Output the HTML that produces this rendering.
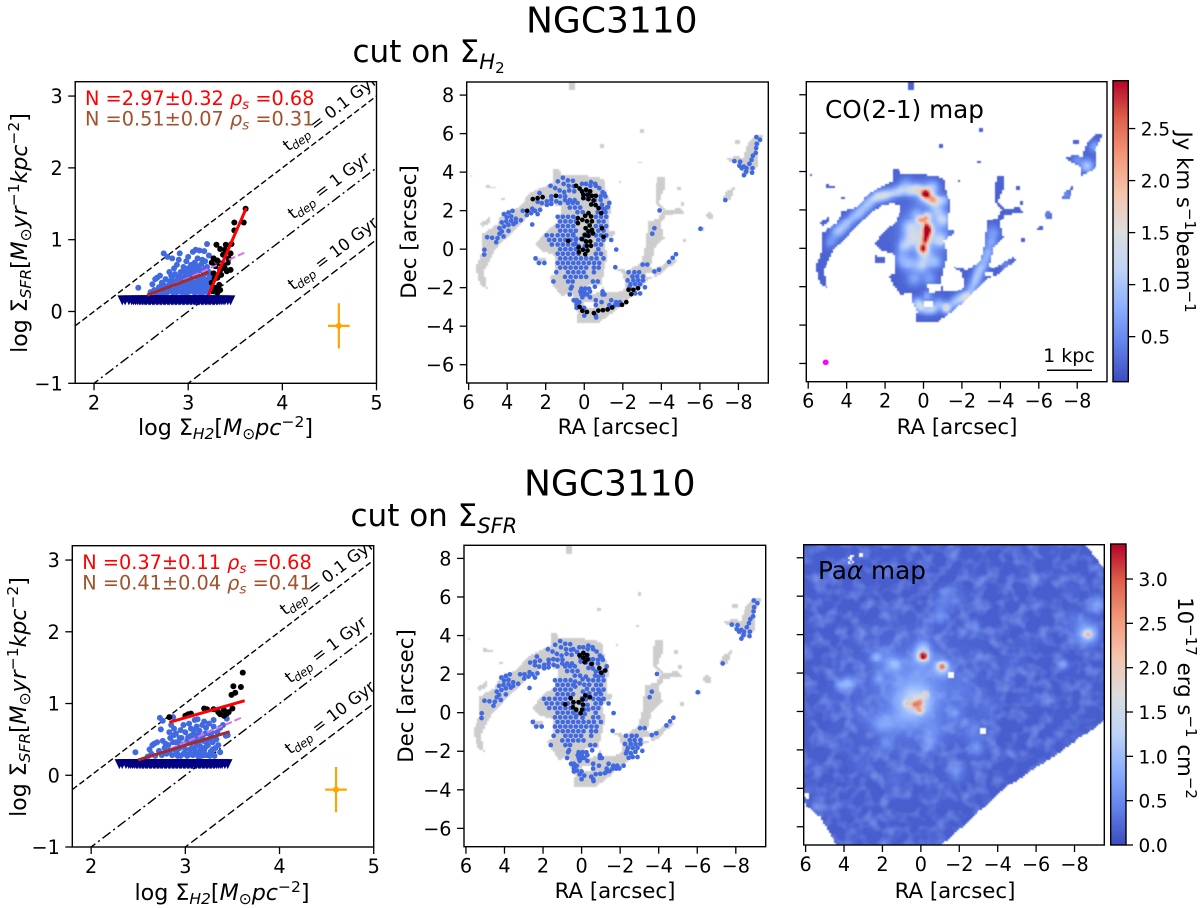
<!DOCTYPE html>
<html lang="en">
<head>
<meta charset="utf-8">
<title>NGC3110 resolved star formation law</title>
<style>
html,body{margin:0;padding:0;background:#fff;}
svg{display:block;}
text{font-family:"DejaVu Sans","Liberation Sans",sans-serif;fill:#000;}
</style>
</head>
<body>
<svg id="fig" xmlns="http://www.w3.org/2000/svg" width="1200" height="908" viewBox="0 0 1200 908">
  <defs>
    <filter id="soft" x="-5%" y="-5%" width="110%" height="110%"><feGaussianBlur stdDeviation="0.55"/></filter>
    <filter id="mottled" x="-2%" y="-2%" width="104%" height="104%" color-interpolation-filters="sRGB">
      <feGaussianBlur in="SourceGraphic" stdDeviation="0.55" result="img"/>
      <feTurbulence type="fractalNoise" baseFrequency="0.075" numOctaves="2" seed="7" result="n"/>
      <feColorMatrix in="n" type="matrix" values="0 0 0 0 0.6  0 0 0 0 0.72  0 0 0 0 1  1.2 0 0 0 -0.5" result="light"/>
      <feComposite in="light" in2="img" operator="in" result="lightIn"/>
      <feMerge><feMergeNode in="img"/><feMergeNode in="lightIn"/></feMerge>
    </filter>
  </defs>
  <rect width="1200" height="908" fill="#fff"/>

  <text x="526" y="32.5" font-size="36">NGC3110</text>
  <text x="352.5" y="62" font-size="31">cut on Σ<tspan font-size="21" dy="7" font-style="italic">H</tspan><tspan font-size="15" dy="4">2</tspan></text>
  <text x="524" y="495.5" font-size="36">NGC3110</text>
  <text x="350.5" y="526" font-size="31">cut on Σ<tspan font-size="21" dy="7" font-style="italic">SFR</tspan></text>

  <!-- static axis titles -->
  <text x="225.5" y="435" font-size="22.2" text-anchor="middle">log Σ<tspan font-size="15.5" dy="4" font-style="italic">H2</tspan><tspan dy="-4">[</tspan><tspan font-style="italic">M</tspan><tspan font-size="15.5" dy="4">⊙</tspan><tspan font-style="italic" dy="-4">pc</tspan><tspan font-size="15.5" dy="-8">−2</tspan><tspan dy="8">]</tspan></text>
  <text transform="translate(27 233) rotate(-90)" font-size="22" text-anchor="middle">log Σ<tspan font-size="15.5" dy="4" font-style="italic">SFR</tspan><tspan dy="-4">[</tspan><tspan font-style="italic">M</tspan><tspan font-size="15.5" dy="4">⊙</tspan><tspan font-style="italic" dy="-4">yr</tspan><tspan font-size="15.5" dy="-8">−1</tspan><tspan font-style="italic" dy="8">kpc</tspan><tspan font-size="15.5" dy="-8">−2</tspan><tspan dy="8">]</tspan></text>
  <text x="222" y="900" font-size="22.2" text-anchor="middle">log Σ<tspan font-size="15.5" dy="4" font-style="italic">H2</tspan><tspan dy="-4">[</tspan><tspan font-style="italic">M</tspan><tspan font-size="15.5" dy="4">⊙</tspan><tspan font-style="italic" dy="-4">pc</tspan><tspan font-size="15.5" dy="-8">−2</tspan><tspan dy="8">]</tspan></text>
  <text transform="translate(26 697) rotate(-90)" font-size="22" text-anchor="middle">log Σ<tspan font-size="15.5" dy="4" font-style="italic">SFR</tspan><tspan dy="-4">[</tspan><tspan font-style="italic">M</tspan><tspan font-size="15.5" dy="4">⊙</tspan><tspan font-style="italic" dy="-4">yr</tspan><tspan font-size="15.5" dy="-8">−1</tspan><tspan font-style="italic" dy="8">kpc</tspan><tspan font-size="15.5" dy="-8">−2</tspan><tspan dy="8">]</tspan></text>

  <text x="618" y="434" font-size="21.3" text-anchor="middle">RA [arcsec]</text>
  <text transform="translate(416 232) rotate(-90)" font-size="21.3" text-anchor="middle">Dec [arcsec]</text>
  <text x="957" y="434" font-size="21.3" text-anchor="middle">RA [arcsec]</text>
  <text x="615" y="898" font-size="21.3" text-anchor="middle">RA [arcsec]</text>
  <text transform="translate(413 696) rotate(-90)" font-size="21.3" text-anchor="middle">Dec [arcsec]</text>
  <text x="955" y="898" font-size="21.3" text-anchor="middle">RA [arcsec]</text>

  <text transform="translate(1177 222) rotate(90)" font-size="21.3" text-anchor="middle">Jy km s<tspan font-size="15" dy="-8">−1</tspan><tspan dy="8">beam</tspan><tspan font-size="15" dy="-8">−1</tspan></text>
  <text transform="translate(1178 698) rotate(90)" font-size="21.3" text-anchor="middle">10<tspan font-size="15" dy="-8">−17</tspan><tspan dy="8"> erg s</tspan><tspan font-size="15" dy="-8">−1</tspan><tspan dy="8"> cm</tspan><tspan font-size="15" dy="-8">−2</tspan></text>

  <g id="layer-panels"></g>

  <text x="85" y="105" font-size="19.3" style="fill:#ff0000">N =2.97±0.32 <tspan font-style="italic" style="fill:#ff0000">ρ</tspan><tspan font-size="13.6" dy="4" font-style="italic" style="fill:#ff0000">s</tspan><tspan dy="-4" style="fill:#ff0000"> =0.68</tspan></text>
  <text x="85" y="125.5" font-size="19.3" style="fill:#a0522d">N =0.51±0.07 <tspan font-style="italic" style="fill:#a0522d">ρ</tspan><tspan font-size="13.6" dy="4" font-style="italic" style="fill:#a0522d">s</tspan><tspan dy="-4" style="fill:#a0522d"> =0.31</tspan></text>
  <text x="82.3" y="569" font-size="19.3" style="fill:#ff0000">N =0.37±0.11 <tspan font-style="italic" style="fill:#ff0000">ρ</tspan><tspan font-size="13.6" dy="4" font-style="italic" style="fill:#ff0000">s</tspan><tspan dy="-4" style="fill:#ff0000"> =0.68</tspan></text>
  <text x="82.3" y="589.5" font-size="19.3" style="fill:#a0522d">N =0.41±0.04 <tspan font-style="italic" style="fill:#a0522d">ρ</tspan><tspan font-size="13.6" dy="4" font-style="italic" style="fill:#a0522d">s</tspan><tspan dy="-4" style="fill:#a0522d"> =0.41</tspan></text>

  <text x="825" y="118" font-size="24.7">CO(2-1) map</text>
  <text x="818" y="579" font-size="24.7">Pa<tspan font-style="italic">α</tspan> map</text>
  <text x="1069" y="362" font-size="19" text-anchor="middle">1 kpc</text>
  <line x1="1047" x2="1092" y1="370.3" y2="370.3" stroke="#000" stroke-width="1.5"/>
  <ellipse cx="825.7" cy="362.3" rx="3" ry="2.8" fill="#ff00ff"/>
</svg>

<script>
/* ---------- chart data ---------- */
const sfLawXTicks = [2, 3, 4, 5];
const sfLawYTicks = [-1, 0, 1, 2, 3];
const raTicks = [6, 4, 2, 0, -2, -4, -6, -8];
const decTicks = [8, 6, 4, 2, 0, -2, -4, -6];
const coCbarTicks = [0.5, 1.0, 1.5, 2.0, 2.5];
const paCbarTicks = [0.0, 0.5, 1.0, 1.5, 2.0, 2.5, 3.0];

/* depletion-time reference lines: log SFR = log H2 + offset */
const depletionOffsets = [-2, -3, -4];
const depletionLabels = ["0.1 Gyr", "1 Gyr", "10 Gyr"];

/* upper limits in the Sigma_H2 axis (same in both rows) */
const upperLimitY = 0.155;
const upperLimitX = [2.30,2.33,2.37,2.40,2.42,2.44,2.46,2.48,2.49,2.51,2.52,2.54,2.55,2.56,2.58,2.59,2.60,2.62,2.63,2.64,2.66,2.67,2.68,2.70,2.71,2.72,2.74,2.75,2.76,2.78,2.79,2.80,2.82,2.83,2.84,2.86,2.87,2.88,2.90,2.91,2.92,2.94,2.95,2.96,2.98,2.99,3.00,3.02,3.03,3.04,3.06,3.07,3.08,3.10,3.11,3.12,3.14,3.15,3.16,3.18,3.19,3.20,3.22,3.23,3.24,3.26,3.27,3.28,3.30,3.31,3.33,3.35,3.37,3.39,3.42,3.45];

const topBlueLaw = [[2.47,.33],[2.74,.81],[2.78,.76],[2.83,.74],[2.91,.81],[2.9,.72],[3.05,.83],[3.08,.86],[3.12,.85],[3.17,.84],[3.2,.94],[3.0,.76],[3.1,.74],[3.15,.72],[3.22,.78],[2.65,.45],[2.67,.47],[2.62,.38],[2.7,.5],[2.72,.4],[2.8,.55],[2.85,.6],[2.88,.65],[2.92,.55],[2.95,.62],[2.98,.7],[3.03,.65],[3.07,.68],[3.1,.63],[3.14,.66],[3.18,.7],[3.2,.62],[3.22,.55],[2.6,.27],[2.64,.3],[2.68,.28],[2.72,.32],[2.75,.26],[2.78,.35],[2.76,.45],[2.82,.3],[2.85,.38],[2.83,.48],[2.88,.27],[2.9,.35],[2.89,.45],[2.93,.42],[2.95,.3],[2.97,.5],[2.98,.38],[3.0,.27],[3.01,.45],[3.02,.55],[3.04,.33],[3.05,.48],[3.07,.26],[3.08,.4],[3.09,.54],[3.11,.31],[3.12,.47],[3.13,.58],[3.15,.26],[3.15,.38],[3.16,.5],[3.18,.32],[3.18,.6],[3.2,.44],[3.21,.26],[3.22,.36],[3.23,.5],[3.0,.6],[2.93,.27],[2.86,.52],[2.8,.42],[3.06,.6],[2.74,.37],[2.96,.45],[3.12,.38],[3.19,.53],[3.04,.41],[2.91,.49],[2.99,.33],[3.1,.28],[2.7,.25],[3.17,.42],[3.14,.32],[3.06,.35],[3.02,.3],[2.84,.26],[2.78,.27],[2.81,.36],[2.87,.32],[2.9,.28],[2.94,.35],[2.97,.26],[3.0,.32],[3.03,.38],[3.05,.28],[3.08,.33],[3.1,.44],[3.13,.26],[3.16,.29],[3.19,.38],[3.22,.3],[3.24,.42],[2.92,.38],[2.96,.56],[3.0,.52],[3.04,.58],[3.11,.57],[3.16,.56],[3.14,.44],[2.66,.26],[2.73,.27],[2.77,.31],[2.84,.42],[2.88,.4],[3.07,.52],[3.01,.38],[2.95,.42],[2.82,.5],[2.69,.34]];
const topBlackLaw = [[3.61,1.43],[3.49,1.24],[3.59,1.24],[3.49,1.13],[3.30,.93],[3.34,.87],[3.40,.93],[3.46,.94],[3.39,.86],[3.37,.79],[3.45,.81],[3.43,.74],[3.27,.74],[3.31,.71],[3.25,.68],[3.34,.67],[3.29,.63],[3.39,.60],[3.45,.58],[3.34,.58],[3.27,.53],[3.35,.51],[3.31,.47],[3.25,.40],[3.33,.37],[3.29,.33],[3.34,.30],[3.27,.28],[3.31,.26],[3.38,.66],[3.42,.68],[3.28,.46],[3.41,.56]];
const bottomBlueLaw = [[2.47,.32],[2.73,.8],[2.76,.76],[2.74,.64],[2.87,.81],[2.65,.42],[2.67,.44],[2.62,.36],[3.1,.77],[3.13,.78],[3.2,.75],[3.3,.77],[3.44,.79],[3.4,.7],[3.43,.55],[3.45,.56],[3.35,.42],[2.85,.7],[2.88,.65],[2.83,.6],[2.9,.58],[2.95,.63],[2.98,.7],[3.0,.6],[3.04,.72],[3.06,.65],[3.09,.58],[3.12,.68],[3.15,.62],[3.18,.7],[3.22,.66],[3.25,.72],[3.28,.6],[3.3,.68],[3.34,.6],[3.37,.66],[2.6,.26],[2.64,.3],[2.68,.27],[2.72,.34],[2.75,.28],[2.78,.38],[2.76,.48],[2.8,.3],[2.82,.42],[2.84,.52],[2.86,.28],[2.88,.36],[2.9,.46],[2.92,.27],[2.94,.38],[2.96,.52],[2.98,.3],[3.0,.44],[3.02,.27],[3.03,.53],[3.05,.36],[3.07,.46],[3.08,.28],[3.1,.38],[3.11,.5],[3.13,.3],[3.14,.56],[3.16,.4],[3.17,.27],[3.19,.48],[3.2,.35],[3.21,.58],[3.23,.28],[3.24,.42],[3.26,.5],[3.27,.33],[3.29,.46],[3.31,.27],[3.32,.38],[2.7,.46],[2.93,.45],[3.06,.55],[3.18,.54],[3.12,.44],[3.0,.36],[2.87,.46],[3.25,.58],[3.15,.33],[3.04,.29],[3.09,.63],[2.97,.43],[2.83,.34],[2.91,.32],[2.95,.27],[3.0,.3],[3.06,.3],[3.11,.33],[3.14,.26],[3.18,.36],[3.22,.47],[3.26,.27],[3.29,.36],[3.28,.54],[3.33,.5],[3.37,.32],[3.02,.48],[3.07,.38],[3.16,.48],[3.22,.4],[2.94,.52],[2.88,.56],[3.1,.56],[2.79,.44],[3.2,.28]];
const bottomBlackLaw = [[3.61,1.43],[3.51,1.24],[3.59,1.23],[3.53,1.15],[3.49,1.12],[2.83,.81],[3.03,.85],[3.06,.86],[3.0,.83],[3.2,.93],[3.23,.92],[3.3,.92],[3.41,.91],[3.37,.85],[3.41,.83],[3.44,.86],[3.5,.93],[3.46,.88],[3.35,.88]];

/* [x0, x1, y0, y1] in data units */
const topRedFit = [3.216, 3.617, 0.232, 1.44];
const topBrownFit = [2.564, 3.216, 0.227, 0.548];
const topVioletFit = [2.56, 3.61, 0.205, 0.826];
const bottomRedFit = [2.83, 3.63, 0.738, 1.04];
const bottomBrownFit = [2.5, 3.47, 0.214, 0.608];
const bottomVioletFit = [2.55, 3.62, 0.2, 0.817];

const errorBarCentre = [4.6, -0.2];
const errorBarHalf = [0.115, 0.315];

/* emission-region outlines, in [RA, Dec] arcsec */
const emissionOutlines = [
 [[5.03,-2.08],[5.42,-1.82],[5.61,-.95],[5.3,-.09],[5.3,.78],[4.51,1.3],[4.25,1.91],[3.39,2.17],[2.86,2.86],[1.65,3.47],[1.56,4.11],[1.3,4.11],[1.13,3.87],[.17,3.87],[-1.04,3.65],[-1.16,2.95],[-1.39,2.52],[-1.3,.95],[-1.74,.87],[-1.04,.43],[-1.22,-.43],[-1.04,-1.04],[-.9,-1.74],[-1.04,-2.26],[-1.74,-2.26],[-2.12,-2.0],[-2,-1.3],[-1.48,-.95],[-2.26,-1.13],[-2.95,-.69],[-3.21,.26],[-3.3,1.48],[-3.82,1.51],[-4.08,2.0],[-3.65,2.43],[-3.65,2.95],[-3.82,3.73],[-4.17,3.77],[-4.17,3.13],[-3.91,2.43],[-4.34,2.0],[-4.95,2.17],[-5.21,1.91],[-4.25,1.74],[-3.99,1.3],[-4.17,.61],[-3.65,.09],[-3.39,-.95],[-3.65,-1.04],[-4.69,-.43],[-4.77,-.61],[-3.99,-1.3],[-3.21,-1.65],[-2.78,-2.17],[-1.91,-2.95],[-.69,-3.9],[.43,-3.9],[.35,-3.3],[.61,-2.78],[.61,-2.34],[1.22,-2.43],[1.82,-1.48],[1.48,-1.3],[1.56,-.26],[2.08,-.17],[2.52,.26],[2.08,.87],[1.48,1.3],[1.13,2.17],[1.56,2.34],[2.08,2.26],[2.78,1.82],[3.3,1.3],[4.0,.61],[4.69,-.09],[5.21,-1.13]],
 [[-.17,-1.82],[-.87,-1.86],[-.87,-2.26],[-.35,-2.34]],
 [[0,-2.78],[-.52,-2.78],[-.52,-3.04],[0,-3.04]],
 [[-3.21,-1.22],[-3.56,-1.22],[-3.56,-1.48],[-3.21,-1.48]],
 [[2.55,-.35],[2.0,-.5],[2.0,-.78],[2.5,-.7]],
 [[5.4,1.3],[4.9,1.65],[4.85,1.45],[5.3,1.1]],
 [[5.1,3.35],[4.6,3.2],[4.6,3.1],[5.1,3.1]],
 [[4.3,2.65],[4.15,2.65],[4.15,2.5],[4.3,2.5]],
 [[.8,8.7],[.5,8.7],[.55,8.25],[.75,8.25]],
 [[-2.9,6.2],[-3.05,6.2],[-3.05,6.05],[-2.9,6.05]],
 [[-.8,5.45],[-.95,5.45],[-.95,5.2],[-.8,5.2]],
 [[-2.8,4.55],[-2.95,4.55],[-2.95,4.4],[-2.8,4.4]],
 [[-1.75,3.55],[-1.85,3.55],[-1.85,3.4],[-1.75,3.4]],
 [[5.9,3.8],[5.8,3.8],[5.8,3.7],[5.9,3.7]],
 [[-7.38,4.69],[-7.81,4.86],[-8.25,4.77],[-8.51,5.47],[-8.94,5.95],[-9.34,5.9],[-8.94,5.12],[-9.03,4.25],[-8.25,3.77],[-8.16,4.25],[-7.64,4.51]],
 [[-7.78,5.64],[-8.12,5.64],[-8.12,5.43],[-7.78,5.43]],
 [[-7.12,2.52],[-7.38,2.95],[-7.85,3.35],[-7.55,2.52]],
 [[-6.3,1.82],[-6.6,2.0],[-6.74,1.56],[-6.42,1.5]],
 [[-5.9,1.04],[-6.16,1.2],[-6.16,.95],[-5.9,.95]],
 [[-5.12,.52],[-5.33,.55],[-5.33,.3],[-5.12,.35]],
 [[-4.77,3.2],[-4.95,3.2],[-4.95,3.05],[-4.77,3.05]],
 [[-5,2.45],[-5.15,2.45],[-5.15,2.25],[-5,2.25]]
];

/* Pa-alpha field of view and blank pixels */
const paOutline = [[-8.47,8.8],[-9.6,7.38],[-9.6,-.45],[-6.88,-2.36],[-5.41,-3.31],[-4.45,-3.92],[-2.37,-5.82],[-.9,-7.1],[4.3,-7.1],[5.25,-5.48],[6.03,-4.87],[6.2,-4.09],[6.2,8.8]];
const paBlanks = [[-1.41,2.02],[-1.51,2.02],[-1.61,2.02],[-1.41,1.92],[-1.51,1.92],[-1.61,1.92],[-1.41,1.82],[-1.51,1.82],[-1.61,1.82],[-3.14,-.87],[-3.24,-.87],[-3.34,-.87],[-3.14,-.97],[-3.24,-.97],[-3.34,-.97],[-3.14,-1.07],[-3.24,-1.07],[-3.34,-1.07],[3.7,8.05],[3.6,8.05],[3.8,7.95],[3.7,7.95],[3.7,7.85],[3.8,7.75],[3.7,7.65],[3.6,7.75],[3.8,7.65],[3.2,8.15],[3.1,8.15],[3.2,8.05],[3.1,8.05],[6.0,-4.3],[5.9,-4.3],[6.0,-4.4],[5.9,-4.4],[5.9,-4.5]];

/* CO(2-1) intensity peaks: [RA, Dec, amplitude, sigma] */
const coBaseLevel = 0.22;
const coPeaks = [[-.09,2.86,2.4,.18],[-.05,2.85,.7,.36],[-.55,2.48,1.35,.18],[-.3,2.65,.8,.22],[.35,3.1,.9,.18],[.2,1.48,1.3,.14],[-.2,1.65,1.1,.15],[-.05,1.5,.9,.15],[-.2,.92,2.25,.17],[-.18,1.15,1.3,.16],[-.09,.43,1.65,.16],[-.15,.68,1.1,.16],[.03,-.02,2.4,.18],[-.05,.7,.55,.6],[0,1.0,.3,.8],[.6,.5,.65,.28],[1.0,.1,.65,.24],[.8,-.8,.6,.28],[.1,-.9,.8,.28],[-.6,-.7,.6,.25],[-.9,.4,.75,.25],[-1.0,1.5,.8,.25],[-.7,2.0,.6,.25],[.5,-1.6,.45,.25],[1.2,-.5,.35,.25],[-.3,-1.6,.4,.25],[-.1,-.4,.55,.25],[.7,1.1,.55,.25],[.4,1.8,.35,.2],[.9,3.3,.45,.25],[-.5,3.2,.55,.22],[-1,2.5,.7,.2],[4.5,.85,.6,.2],[4.75,.45,.3,.2],[4.9,.2,.2,.18],[4.25,1.05,.5,.2],[4.0,1.3,.6,.2],[3.7,1.55,.5,.2],[3.4,1.8,.6,.2],[3.15,2.05,.5,.2],[2.9,2.3,.6,.2],[2.65,2.55,.55,.2],[2.4,2.7,.75,.2],[2.15,2.72,.6,.2],[1.9,2.8,.8,.2],[1.55,2.9,.6,.2],[1.2,3.0,.75,.2],[.7,3.0,.75,.2],[.17,-3.04,1.0,.2],[.35,-2.8,.5,.18],[-.2,-3.2,.55,.18],[-.5,-3.15,.7,.18],[-1.2,-3.1,1.45,.17],[-.8,-2.9,.55,.2],[-1.6,-2.85,.6,.18],[-1.9,-2.65,.7,.2],[-2.26,-2.55,1.3,.19],[-2.5,-2.1,.6,.2],[-2.7,-1.7,.7,.2],[-2.85,-1.35,.6,.18],[-3.0,-1.0,.7,.2],[-3.2,-.6,.5,.2],[-3.35,-.2,.55,.2],[-3.5,.3,.45,.2],[-3.6,.8,.4,.25],[-.2,-2.5,.5,.18],[-4.3,-.85,.25,.18],[-8.5,4.3,.8,.22],[-8.9,5.3,.5,.2],[-8.0,4.6,.3,.18],[-7.4,2.8,.3,.18],[-6.45,1.8,.2,.18]];

/* Pa-alpha surface-brightness peaks: [RA, Dec, amplitude, sigma] */
const paBaseLevel = 0.13;
const paPeaks = [[-.12,2.91,2.9,.13],[-.1,2.9,1.2,.3],[-.1,3.4,.45,.25],[-1.11,2.32,1.7,.14],[-1.1,2.3,1.0,.28],[.75,.42,1.0,.12],[.35,.38,1.0,.12],[.05,.02,1.1,.12],[.05,.5,1.1,.14],[-.26,.85,1.0,.12],[.14,.24,.7,.16],[.3,.4,.95,.55],[.3,1.2,.35,1.0],[.3,.8,.22,2.2],[-8.7,4.02,1.25,.14],[-8.7,4.02,.85,.35],[-8.3,4.3,.18,.6],[3.78,1.46,.7,.24],[4.2,1.37,.5,.2],[2.34,2.84,.65,.2],[1.35,2.44,.6,.25],[1.75,2.7,.25,.3],[2.2,1.7,.4,.2],[-1,4.9,.4,.22],[-1,5.4,.2,.3],[-2.8,4.4,.4,.2],[-7.4,2.44,.55,.18],[-9.2,5.6,.55,.3],[-1.77,-.07,.45,.2],[-2.9,-1.9,.45,.25],[-2.7,-1.0,.25,.35],[-1.85,-3.2,.3,.3],[-.47,-1.66,.35,.25],[1.8,-1.66,.35,.25],[2.1,-.6,.4,.35],[-1.33,6,.2,.35],[-1.9,5.8,.15,.4],[1.2,-.5,.3,.4],[-.6,-1,.25,.4],[-2.2,1.1,.12,.4],[-3.5,.2,.12,.4],[-4.8,2.4,.1,.4],[-5.5,3.5,.08,.4],[-7.8,6.3,.08,.35],[-5.6,.6,.08,.35],[-.6,-4.6,.1,.3],[1.4,-3.5,.12,.35],[3.1,-2.8,.1,.35],[4.5,-1.6,.08,.35],[4.8,.4,.1,.3],[-2.8,2.8,.12,.25],[3,-.2,.12,.3],[-7.8,4.9,.1,.3]];

/* emission-line spots: [Dec, [RA, RA, ...]] rows shared by both spot maps */
const spotRows = [
 [5.82,[-8.93]],[5.68,[-9.12]],[5.47,[-8.95]],[5.25,[-8.92]],[5.0,[-8.9]],[4.85,[-8.75]],[4.64,[-8.68]],[4.57,[-7.79]],[4.54,[-8.09]],[4.43,[-8.57]],[4.33,[-8.05]],[4.29,[-8.28]],[4.2,[-8.17,-8.42,-8.73]],[4.03,[-8.4]],[3.97,[-8.71]],[3.84,[-8.29]],
 [2.55,[-7.32,1.0,.75,.5,-.55,-.85]],[1.06,[-6.03]],[2.01,[-3.91]],[1.09,[-3.64]],[.8,[-3.53]],[-.26,[-4.76]],[-.45,[-4.59]],[-.66,[-4.4]],[-1.07,[-3.88]],[-1.16,[-3.64]],[-.8,[-3.27,-3.03]],[-.02,[-1.66]],[-.94,[-1.61]],
 [-.03,[5.18]],[-.28,[5.19]],[.62,[5.04]],[.59,[4.78]],[.36,[4.57]],[.57,[4.5]],[.8,[4.4]],[.66,[4.19]],[.95,[3.93]],[.92,[4.28]],[1.09,[4.4]],[1.18,[4.16]],[1.26,[3.93]],[1.3,[3.67]],[1.39,[4.28,3.55]],[1.44,[4.05]],[1.47,[3.79]],[1.5,[3.29]],[1.66,[4.02]],[1.7,[3.79]],[1.58,[3.55]],[1.82,[4.16,2.42]],[1.9,[3.93]],[1.99,[3.72,3.19,2.55]],[1.28,[2.7]],
 [1.77,[2.98]],[1.87,[2.75]],[2.04,[2.29]],[2.1,[2.7]],[2.91,[2.32]],[2.46,[2.42]],[2.39,[2.2]],[2.48,[1.94,1.45]],[2.3,[1.94]],[2.56,[1.71]],[2.35,[1.71]],[2.74,[1.71,1.25,.99,-.85,-1.1]],[3.29,[1.75,.81,.43,-.32,-.6]],[3.17,[1.51]],[3.05,[1.28,.78]],[2.96,[1.04,-.95]],[3.52,[1.37]],[3.71,[1.11]],[3.39,[1.07,.12,-.09,-.57]],[3.57,[.85]],[3.55,[.59]],[3.26,[.55]],[3.0,[.52]],[3.48,[-.35]],[3.17,[-.78]],[2.87,[-1.04]],
 [2.4,[1.25,.85,.6,.35,-1.3]],[2.16,[.75,.48,.21,-.9,-1.17]],[1.92,[.35,.08,-.7,-1.1]],[1.68,[1.38,1.11,.84,.57,-.6,-.87,-1.14]],[1.44,[1.25,.98,.71,.44,-.75,-1.0]],[1.2,[1.38,1.11,.84,.57,-.6,-.87,-1.14]],[.96,[1.25,.98,.71,.44,-.73,-1.0]],[.72,[1.95,1.68,1.38,1.11,.84,.57,-.6,-.87,-1.14]],[.48,[1.82,1.55,1.25,.98,.71,.44,-.73,-1.0,-1.4]],[.24,[1.68,1.38,1.11,.84,.57,-.6,-.87]],[0,[1.25,.98,.71,.44,-.73]],[-.24,[1.38,1.11,.84,.57,.3,-.6,-.87]],[-.48,[2.53,1.25,.98,.71,.44,.17,-.1,-.37,-.64,-1.0]],[-.72,[2.35,2.07,1.38,1.11,.84,.57,.3,.03,-.24,-.51,-.78]],[-.96,[1.25,.98,.71,.44,.17,-.1,-.5,-.75]],[-1.2,[1.45,.84,.57,.3,.03,-.5]],[-1.44,[1.0,.71,.44,.17,-.1]],[-1.68,[1.6,.84,.6,-.45,-.7]],[-1.95,[.65,-.55]],[-2.05,[.7,.15,-.05,-.25]],[-2.2,[0,.2,-.3,-.95]],[-2.35,[.75,.15,-.05,-.15,-.95,-1.05]],[-2.5,[.1,-.3]],[-2.65,[.55,.4,-.6,-1.4]],[-2.75,[.4,.25,-.9,-1.65,-1.85]],[-2.9,[.4,-.6,-1.3,-1.6,-1.8]],[-3.05,[.4,0,-1.3]],[-3.45,[0,-.6]],[-3.55,[-.62]],
 [-1.2,[-2.3,-2.6,-2.85]],[-1.42,[-2.5,-2.75,-3.05]],[-1.62,[-2.25,-2.55,-2.8,-3.05]],[-1.82,[-2.4,-2.65,-2.9]],[-1.98,[-2.35,-3.15]],[-2.3,[-2.65,-2.9]]
];
/* spots above the cut on Sigma_H2 (top row, black) */
const h2CutSpots = [[2.67,2.6],[2.42,2.65],[2.16,2.7],[1.47,2.77],[2.96,1.99],[.43,3.29],[.24,3.15],[.12,3.0],[-.1,3.08],[-.31,3.0],[.05,2.82],[-.19,2.82],[-.4,2.77],[-.6,2.77],[.05,2.65],[-.22,2.6],[-.48,2.53],[-.36,2.32],[-.59,2.29],[-.74,2.13],[-.88,1.87],[-.22,1.87],[-.05,1.73],[-.35,1.7],[.33,1.61],[.1,1.52],[.33,1.35],[-.14,1.45],[-.4,1.45],[-.28,1.23],[-.07,1.09],[-.92,1.09],[-.4,1.0],[-.22,.92],[-.02,.74],[-.22,.69],[-.45,.83],[-1.0,.64],[.12,.52],[-.09,.4],[-.31,.4],[.83,.43],[-.14,.17],[-.35,.17],[.29,.09],[.07,-.03],[-.17,-.07],[.28,-.16],[-.05,-.26],[.24,-3.0],[.1,-3.2],[-.14,-3.26],[-.5,-3.32],[-.73,-3.19],[-.97,-3.17],[-1.21,-3.13],[-1.45,-3.03],[-1.96,-2.89],[-2.18,-2.75],[-2.3,-2.11],[-2.55,-2.11],[-2.79,-2.03],[-2.44,-2.34]];
/* spots above the cut on Sigma_SFR (bottom row, black) */
const sfrCutSpots = [[.1,2.97],[-.09,3.1],[-.28,2.98],[-.09,2.85],[-.31,2.76],[-.16,2.62],[-.52,2.52],[-.92,2.31],[-1.23,2.19],[-1.02,2.07],[-.19,.89],[-.42,.8],[-.05,.68],[.57,.76],[.85,.43],[.42,.54],[.16,.54],[-.07,.42],[.45,.28],[.28,.16],[-.03,.16],[.05,-.03]];

/* ---------- helpers ---------- */
const NS = 'http://www.w3.org/2000/svg';
const root = document.getElementById('layer-panels');
let clipCount = 0;
function mk(parent, tag, attrs) {
  const el = document.createElementNS(NS, tag);
  for (const k in attrs) el.setAttribute(k, attrs[k]);
  parent.appendChild(el);
  return el;
}
function makeAxes(box, xlim, ylim) {
  return {
    box: box,
    x: v => box.l + (v - xlim[0]) / (xlim[1] - xlim[0]) * (box.r - box.l),
    y: v => box.b - (v - ylim[0]) / (ylim[1] - ylim[0]) * (box.b - box.t),
    xlim: xlim, ylim: ylim
  };
}
function addClip(ax) {
  const id = 'clip' + (++clipCount);
  const cp = mk(document.querySelector('#fig defs'), 'clipPath', {id: id});
  mk(cp, 'rect', {x: ax.box.l, y: ax.box.t, width: ax.box.r - ax.box.l, height: ax.box.b - ax.box.t});
  return 'url(#' + id + ')';
}
function fmtTick(v, digits) {
  const s = Math.abs(v).toFixed(digits);
  return (v < 0 ? '\u2212' : '') + s;
}
function drawFrame(parent, ax, xticks, yticks, showYLabels, prefix) {
  const b = ax.box;
  const frame = mk(parent, 'rect', {x: b.l, y: b.t, width: b.r - b.l, height: b.b - b.t, fill: 'none', stroke: '#000', 'stroke-width': 1.4});
  
  
  xticks.forEach(v => {
    const t = mk(parent, 'line', {x1: ax.x(v), x2: ax.x(v), y1: b.b, y2: b.b + 7, stroke: '#000', 'stroke-width': 1.3});
    
    
    const l = mk(parent, 'text', {x: ax.x(v), y: b.b + 26, 'font-size': 19.2, 'text-anchor': 'middle'});
    
    
    l.textContent = fmtTick(v, 0);
  });
  yticks.forEach(v => {
    const t = mk(parent, 'line', {x1: b.l - 7, x2: b.l, y1: ax.y(v), y2: ax.y(v), stroke: '#000', 'stroke-width': 1.3});
    
    
    if (showYLabels) {
      const l = mk(parent, 'text', {x: b.l - 12.5, y: ax.y(v) + 7, 'font-size': 19.2, 'text-anchor': 'end'});
      
      
      l.textContent = fmtTick(v, 0);
    }
  });
}

/* coolwarm colormap */
const cwStops = [[59,76,192],[98,130,234],[141,176,254],[192,212,245],[221,221,221],[245,196,173],[244,152,122],[222,96,77],[180,4,38]];
function coolwarm(t) {
  t = Math.max(0, Math.min(1, t)) * (cwStops.length - 1);
  const i = Math.min(cwStops.length - 2, Math.floor(t)), f = t - i;
  const c = [0,1,2].map(k => Math.round(cwStops[i][k] + (cwStops[i+1][k] - cwStops[i][k]) * f));
  return 'rgb(' + c.join(',') + ')';
}
function inPoly(poly, px, py) {
  let inside = false;
  for (let i = 0, j = poly.length - 1; i < poly.length; j = i++) {
    const a = poly[i], b = poly[j];
    if ((a[1] > py) !== (b[1] > py) && px < (b[0] - a[0]) * (py - a[1]) / (b[1] - a[1]) + a[0]) inside = !inside;
  }
  return inside;
}
function inOutlines(list, px, py) {
  let n = 0;
  list.forEach(p => { if (inPoly(p, px, py)) n++; });
  return n % 2 === 1;
}
function fieldValue(peaks, base, ra, dec) {
  let v = base;
  for (const p of peaks) {
    const d2 = (ra - p[0]) * (ra - p[0]) + (dec - p[1]) * (dec - p[1]);
    if (d2 < 36 * p[3] * p[3]) v += p[2] * Math.exp(-d2 / (2 * p[3] * p[3]));
  }
  return v;
}
/* raster image drawn as one path per colour level, cells 0.1 arcsec wide */
function drawRaster(parent, ax, isInside, colorOf, name, filterId) {
  const clip = mk(parent, 'g', {'clip-path': addClip(ax)});
  
  
  const img = mk(clip, 'g', {filter: 'url(#' + filterId + ')'});
  
  
  const step = 0.1, levels = {};
  for (let ra = ax.xlim[0]; ra > ax.xlim[1]; ra -= step) {
    const left = Math.round(ax.x(ra)), right = Math.round(ax.x(ra - step));
    for (let dec = ax.ylim[0]; dec < ax.ylim[1]; dec += step) {
      const cra = ra - step / 2, cdec = dec + step / 2;
      if (!isInside(cra, cdec)) continue;
      const top = Math.round(ax.y(dec + step)), bot = Math.round(ax.y(dec));
      const key = colorOf(cra, cdec);
      levels[key] = (levels[key] || '') + 'M' + left + ' ' + top + 'H' + right + 'V' + bot + 'H' + left + 'Z';
    }
  }
  Object.keys(levels).forEach(k => {
    const p = mk(img, 'path', {d: levels[k], fill: k, 'shape-rendering': 'crispEdges'});
    
    
  });
}
function spotList(rows) {
  const out = [];
  rows.forEach(r => r[1].forEach(ra => out.push([ra, r[0]])));
  return out;
}
function drawDots(parent, ax, pts, color, r, name) {
  pts.forEach(p => {
    const c = mk(parent, 'circle', {cx: ax.x(p[0]), cy: ax.y(p[1]), r: r, fill: color});
    
    
  });
}
function drawFit(parent, ax, f, color, width, dash, name) {
  const l = mk(parent, 'line', {x1: ax.x(f[0]), x2: ax.x(f[1]), y1: ax.y(f[2]), y2: ax.y(f[3]), stroke: color, 'stroke-width': width});
  if (dash) l.setAttribute('stroke-dasharray', dash);
  
  
}

/* ---------- SF-law panel ---------- */
function drawSfLaw(box, blue, black, red, brown, violet, prefix) {
  const ax = makeAxes(box, [1.8, 5], [-1, 3.2]);
  const g = mk(root, 'g', {});
  
  
  const bg = mk(g, 'g', {'clip-path': addClip(ax)});
  
  
  const dashes = ['6 3', '10 3.5 2 3.5', '8 3.5'];
  const labelOffsets = [[213, 70], [218, 138], [218, 209]];
  depletionOffsets.forEach((off, i) => {
    const l = mk(bg, 'line', {x1: ax.x(1.8), x2: ax.x(5), y1: ax.y(1.8 + off), y2: ax.y(5 + off), stroke: '#000', 'stroke-width': 1.4, 'stroke-dasharray': dashes[i]});
    
    
    const tx = box.l + labelOffsets[i][0], ty = box.t + labelOffsets[i][1];
    const t = mk(bg, 'text', {transform: 'translate(' + tx + ' ' + ty + ') rotate(-37.4)', 'font-size': 16.5});
    
    
    t.appendChild(document.createTextNode('t'));
    const sub = mk(t, 'tspan', {'font-size': 11.6, dy: 3, 'font-style': 'italic'});
    
    
    sub.textContent = 'dep';
    const rest = mk(t, 'tspan', {dy: -3});
    
    
    rest.textContent = ' = ' + depletionLabels[i];
  });
  drawDots(bg, ax, blue, '#4169e1', 3, prefix + '-spot-blue');
  drawDots(bg, ax, black, '#000', 3, prefix + '-spot-black');
  drawFit(bg, ax, violet, '#e070e0', 2, '7 3', prefix + '-all-spots-fit');
  upperLimitX.forEach(x => {
    const cx = ax.x(x), cy = ax.y(upperLimitY);
    const t = mk(bg, 'polygon', {points: (cx - 4.8) + ',' + (cy - 5) + ' ' + (cx + 4.8) + ',' + (cy - 5) + ' ' + cx + ',' + (cy + 5), fill: '#000080'});
    
    
  });
  drawFit(bg, ax, brown, '#a52a2a', 3, null, prefix + '-brown-fit');
  drawFit(bg, ax, red, '#ff0000', 3, null, prefix + '-red-fit');
  const ex = errorBarCentre[0], ey = errorBarCentre[1];
  drawFit(bg, ax, [ex - errorBarHalf[0], ex + errorBarHalf[0], ey, ey], '#ffa500', 2.2, null, prefix + '-error-bar-x');
  drawFit(bg, ax, [ex, ex, ey - errorBarHalf[1], ey + errorBarHalf[1]], '#ffa500', 2.2, null, prefix + '-error-bar-y');
  drawDots(bg, ax, [errorBarCentre], '#ffa500', 3, prefix + '-error-bar-centre');
  drawFrame(g, ax, sfLawXTicks, sfLawYTicks, true, prefix);
}

/* ---------- spot-map panel ---------- */
function drawSpotMap(box, blue, black, prefix) {
  const ax = makeAxes(box, [6.1, -9.55], [-6.95, 8.68]);
  const g = mk(root, 'g', {});
  
  
  drawRaster(g, ax, (ra, dec) => inOutlines(emissionOutlines, ra, dec), () => '#cdcdcd', prefix + '-emission-mask', 'soft');
  drawDots(g, ax, blue, '#4169e1', 2.35, prefix + '-spot-blue');
  drawDots(g, ax, black, '#000', 2.35, prefix + '-spot-black');
  drawFrame(g, ax, raTicks, decTicks, true, prefix);
}

/* ---------- image panel with colorbar ---------- */
function drawImagePanel(box, cbox, isInside, colorOf, vmin, vmax, cticks, prefix, filterId) {
  const ax = makeAxes(box, [6.1, -9.55], [-6.95, 8.68]);
  const g = mk(root, 'g', {});
  
  
  drawRaster(g, ax, isInside, colorOf, prefix + '-image', filterId);
  drawFrame(g, ax, raTicks, decTicks, false, prefix);

  const gid = prefix + '-gradient';
  const grad = mk(document.querySelector('#fig defs'), 'linearGradient', {id: gid, x1: 0, y1: 1, x2: 0, y2: 0});
  cwStops.forEach((c, i) => {
    mk(grad, 'stop', {offset: i / (cwStops.length - 1), 'stop-color': 'rgb(' + c.join(',') + ')'});
  });
  const cb = mk(g, 'rect', {x: cbox.l, y: cbox.t, width: cbox.r - cbox.l, height: cbox.b - cbox.t, fill: 'url(#' + gid + ')', stroke: '#000', 'stroke-width': 1.4});
  
  
  const cy = v => cbox.b - (v - vmin) / (vmax - vmin) * (cbox.b - cbox.t);
  cticks.forEach(v => {
    const t = mk(g, 'line', {x1: cbox.r, x2: cbox.r + 7, y1: cy(v), y2: cy(v), stroke: '#000', 'stroke-width': 1.3});
    
    
    const l = mk(g, 'text', {x: cbox.r + 12.5, y: cy(v) + 7, 'font-size': 18.4});
    
    
    l.textContent = v.toFixed(1);
  });
}

/* ---------- build ---------- */
const commonSpots = spotList(spotRows);
drawSfLaw({l:75.2, r:376.5, t:81.7, b:383.3}, topBlueLaw, topBlackLaw, topRedFit, topBrownFit, topVioletFit, 'top-sf-law');
drawSfLaw({l:72.3, r:373.7, t:545.7, b:847}, bottomBlueLaw, bottomBlackLaw, bottomRedFit, bottomBrownFit, bottomVioletFit, 'bottom-sf-law');
drawSpotMap({l:466.7, r:768.3, t:82, b:383}, commonSpots.concat(sfrCutSpots), h2CutSpots, 'top-spots');
drawSpotMap({l:464, r:765.7, t:545.3, b:846.7}, commonSpots.concat(h2CutSpots), sfrCutSpots, 'bottom-spots');

const COLEVELS = 120;
function quantColor(v, vmin, vmax) {
  const t = Math.round((v - vmin) / (vmax - vmin) * COLEVELS) / COLEVELS;
  return coolwarm(t);
}
drawImagePanel({l:806.3, r:1107, t:81.7, b:381.7}, {l:1113, r:1128.3, t:80.7, b:381.7},
  (ra, dec) => inOutlines(emissionOutlines, ra, dec),
  (ra, dec) => quantColor(fieldValue(coPeaks, coBaseLevel, ra, dec), 0.067, 2.96),
  0.067, 2.96, coCbarTicks, 'co-map', 'soft');
drawImagePanel({l:803.7, r:1104.3, t:544.7, b:845}, {l:1110.7, r:1126, t:544, b:845},
  (ra, dec) => {
    if (!inPoly(paOutline, ra, dec)) return false;
    for (const b of paBlanks) {
      if (Math.abs(ra - b[0]) <= 0.05 && Math.abs(dec - b[1]) <= 0.05) return false;
    }
    return true;
  },
  (ra, dec) => quantColor(fieldValue(paPeaks, paBaseLevel, ra, dec), 0, 3.395),
  0, 3.395, paCbarTicks, 'pa-map', 'mottled');
</script>
</body>
</html>
